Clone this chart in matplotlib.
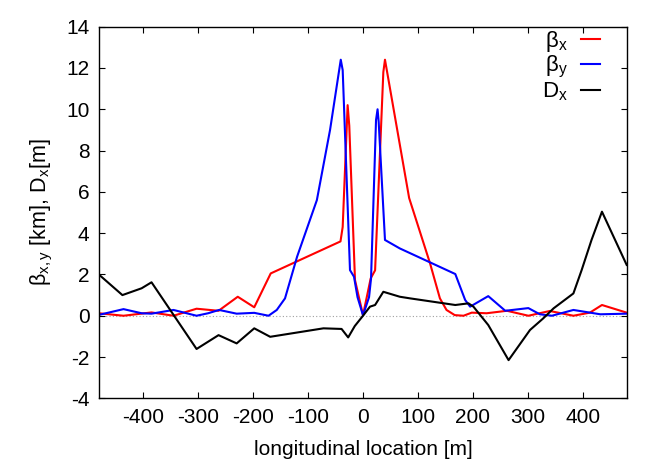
import numpy as np
import matplotlib
matplotlib.use("Agg")
import matplotlib.pyplot as plt

plt.rcParams["font.family"] = ["Liberation Sans", "DejaVu Sans"]
plt.rcParams["mathtext.fontset"] = "custom"
plt.rcParams["mathtext.rm"] = "Liberation Sans"
plt.rcParams["mathtext.it"] = "Liberation Sans"
plt.rcParams["axes.unicode_minus"] = False

# beta_x [km] along the line
bx_s = [-481, -436, -385, -345, -303, -263, -228, -198, -168, -41, -37, -28,
        -25, -14.6, 0, 14, 22, 37, 40, 84, 122, 140, 152, 167, 183, 198, 225,
        262, 301, 340, 383, 413, 435, 480]
bx_v = [0.12, 0.0, 0.16, 0.0, 0.34, 0.24, 0.92, 0.41, 2.05, 3.6, 4.3, 10.2,
        9.2, 1.73, 0.03, 1.81, 2.2, 11.8, 12.4, 5.7, 2.54, 0.84, 0.28, 0.03,
        0.0, 0.15, 0.12, 0.24, 0.0, 0.23, 0.0, 0.15, 0.52, 0.15]

# beta_y [km]
by_s = [-481, -436, -403, -385, -345, -303, -282, -262, -230, -198, -172,
        -157, -142, -120, -84, -60, -40.5, -37, -23.7, -16.4, -10, 0, 11,
        14.6, 23.7, 26.5, 28.5, 40, 67, 168, 186, 195, 228, 259, 301, 322,
        344, 383, 432, 480]
by_v = [0.04, 0.32, 0.12, 0.1, 0.28, 0.0, 0.12, 0.28, 0.1, 0.14, 0.0, 0.28,
        0.84, 2.86, 5.6, 9.0, 12.4, 11.9, 2.21, 1.89, 0.9, 0.02, 0.9, 1.8,
        9.48, 10.0, 9.4, 3.67, 3.26, 2.02, 0.76, 0.44, 0.95, 0.24, 0.37, 0.07,
        0.0, 0.28, 0.07, 0.1]

# D_x [m]
dx_s = [-481, -438, -403, -385, -303, -263, -230, -198, -169, -72, -39, -27,
        -15, 0, 12.7, 22, 37, 67, 86, 168, 192, 201, 228, 265, 304, 328, 347,
        383, 398, 416, 435, 480]
dx_v = [2.0, 1.0, 1.33, 1.62, -1.61, -0.94, -1.34, -0.61, -1.02, -0.61,
        -0.64, -1.05, -0.5, 0.0, 0.44, 0.52, 1.16, 0.92, 0.84, 0.52, 0.6,
        0.44, -0.45, -2.15, -0.69, -0.13, 0.36, 1.08, 2.21, 3.67, 5.04, 2.46]

fig = plt.figure(figsize=(6.64, 4.65), dpi=100)
ax = fig.add_axes([0.1496, 0.1434, 0.7942, 0.7992])

ax.axhline(0, color="#a0a0a0", lw=0.8, ls=(0, (1, 2)), zorder=1)
ax.plot(bx_s, bx_v, color="#ff0000", lw=1.5, label=r"β$_{\mathrm{x}}$")
ax.plot(by_s, by_v, color="#0000ff", lw=1.5, label=r"β$_{\mathrm{y}}$")
ax.plot(dx_s, dx_v, color="black", lw=1.5, label=r"D$_{\mathrm{x}}$")

ax.set_xlim(-480, 480)
ax.set_ylim(-4, 14)
ax.set_xticks(np.arange(-400, 401, 100))
ax.set_yticks(np.arange(-4, 15, 2))
ax.tick_params(direction="in", length=4.5, width=0.8, top=True, right=True,
               labelsize=15, pad=7)
for sp in ax.spines.values():
    sp.set_linewidth(1.0)

ax.set_xlabel("longitudinal location [m]", fontsize=15, labelpad=9)
ax.set_ylabel(r"β$_{\mathrm{x,y}}$ [km], D$_{\mathrm{x}}$[m]", fontsize=15.5,
              labelpad=8)

ax.legend(loc="upper right", bbox_to_anchor=(0.979, 1.035), frameon=False,
          markerfirst=False, fontsize=16, handlelength=0.85,
          handletextpad=0.6, labelspacing=0.0, borderaxespad=0.3)

fig.savefig("out.png", dpi=100)
